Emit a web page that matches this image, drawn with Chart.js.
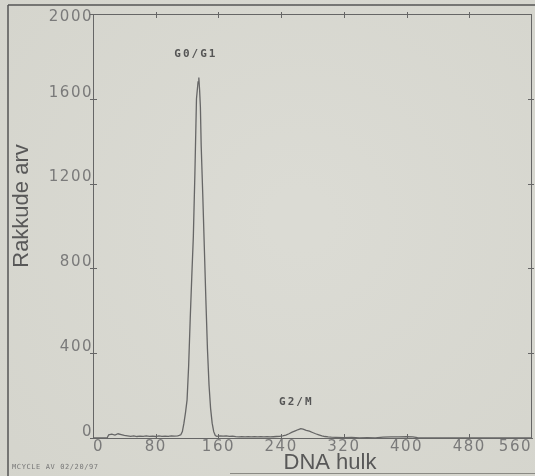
<!DOCTYPE html>
<html>
<head>
<meta charset="utf-8">
<script src="https://cdn.jsdelivr.net/npm/chart.js@4/dist/chart.umd.min.js"></script>
<style>
  html, body { margin: 0; padding: 0; background: #d8d8d0; }
  #wrap { width: 535px; height: 476px; position: relative; }
</style>
</head>
<body>
<div id="wrap"><canvas id="c" width="535" height="476"></canvas></div>
<script>
// DNA channel (x) and cell count (y)
const channels = [0, 18, 20, 24, 28, 32, 36, 40, 44, 48, 52, 56, 60, 64, 68, 72, 76, 80, 84, 88, 92, 96, 100, 104, 108, 110,
  112, 114, 116, 118, 120, 122, 124, 126, 128, 130, 132, 134, 135, 136, 137, 138, 140, 142, 144, 146, 148, 150, 152, 154, 156, 158,
  162, 166, 170, 174, 178, 182, 186, 190, 194, 198, 202, 206, 210, 214, 218, 222, 226, 230, 234, 238, 242, 246, 250, 254, 258, 262,
  265, 268, 272, 276, 280, 284, 288, 292, 296, 300, 304, 310, 320, 330, 340, 350, 360, 370, 380, 390, 400, 408, 414, 420, 560];
const counts = [0, 0, 15, 18, 14, 20, 16, 12, 10, 8, 10, 7, 9, 8, 10, 8, 9, 7, 10, 8, 9, 8, 10, 9, 10, 12,
  15, 30, 70, 120, 180, 340, 560, 760, 950, 1250, 1600, 1680, 1700, 1640, 1560, 1380, 1150, 900, 650, 420, 250, 140, 70, 30, 12, 8,
  10, 9, 10, 8, 9, 6, 5, 6, 5, 6, 5, 6, 5, 6, 5, 6, 5, 6, 7, 8, 10, 14, 20, 28, 34, 40,
  44, 42, 36, 32, 26, 20, 15, 10, 7, 5, 4, 3, 2, 3, 1, 2, 1, 4, 5, 5, 6, 5, 2, 0, 0];
const xTicks = [0, 80, 160, 240, 320, 400, 480, 560];
const yTicks = [0, 400, 800, 1200, 1600, 2000];
const peakLabels = ['G0/G1', 'G2/M'];
const peakLabelPos = [[130, 1811], [258, 170]];
const xTitle = 'DNA hulk';
const yTitle = 'Rakkude arv';
const footNote = 'MCYCLE AV 02/20/97';

const points = channels.map((c, i) => ({ x: c, y: counts[i] }));
const TICK_COLOR = '#7a7a7a';
const LINE_COLOR = '#666666';

const decor = {
  id: 'decor',
  beforeDraw(chart) {
    const ctx = chart.ctx;
    ctx.save();
    const g = ctx.createRadialGradient(300, 220, 30, 300, 220, 420);
    g.addColorStop(0, '#dbdbd4');
    g.addColorStop(1, '#d4d4cc');
    ctx.fillStyle = g;
    ctx.fillRect(0, 0, chart.width, chart.height);
    ctx.restore();
    ctx.letterSpacing = '1.5px';
  },
  afterDraw(chart) {
    const ctx = chart.ctx;
    const xs = chart.scales.x, ys = chart.scales.y;
    const a = chart.chartArea;
    ctx.save();
    ctx.letterSpacing = '0px';
    ctx.strokeStyle = LINE_COLOR;
    ctx.lineWidth = 1;
    // plot frame top and right
    ctx.beginPath();
    ctx.moveTo(a.left, a.top + 0.5); ctx.lineTo(a.right, a.top + 0.5);
    ctx.moveTo(a.right - 0.5, a.top); ctx.lineTo(a.right - 0.5, a.bottom);
    ctx.stroke();
    // tick stubs
    ctx.beginPath();
    yTicks.forEach(v => {
      const y = Math.round(ys.getPixelForValue(v)) + 0.5;
      ctx.moveTo(a.left - 3, y); ctx.lineTo(a.left + 4, y);
      if (v > 0 && v < 2000) { ctx.moveTo(a.right - 4, y); ctx.lineTo(a.right + 2, y); }
    });
    xTicks.forEach(v => {
      if (v > 0 && v < 560) {
        const x = Math.round(xs.getPixelForValue(v)) + 0.5;
        ctx.moveTo(x, a.top - 2); ctx.lineTo(x, a.top + 4);
        ctx.moveTo(x, a.bottom); ctx.lineTo(x, a.bottom - 4);
      }
    });
    ctx.stroke();
    // outer frame
    ctx.strokeStyle = '#555555';
    ctx.lineWidth = 1.5;
    ctx.beginPath();
    ctx.moveTo(8, 5); ctx.lineTo(535, 5);
    ctx.moveTo(8, 5); ctx.lineTo(8, 476);
    ctx.stroke();
    ctx.strokeStyle = '#8a8a84';
    ctx.lineWidth = 1;
    ctx.beginPath();
    ctx.moveTo(230, 473.5); ctx.lineTo(535, 473.5);
    ctx.stroke();
    // axis titles
    ctx.fillStyle = '#585858';
    ctx.font = '22px "Liberation Sans", Arial, sans-serif';
    ctx.textAlign = 'center';
    ctx.textBaseline = 'alphabetic';
    ctx.fillText(xTitle, 330, 469);
    ctx.save();
    ctx.translate(28, 206);
    ctx.rotate(-Math.PI / 2);
    ctx.fillText(yTitle, 0, 0);
    ctx.restore();
    // footnote
    ctx.fillStyle = '#777777';
    ctx.font = '7px "DejaVu Sans Mono", monospace';
    ctx.letterSpacing = '0.6px';
    ctx.textAlign = 'left';
    ctx.textBaseline = 'middle';
    ctx.fillText(footNote, 12, 467);
    // peak labels
    ctx.fillStyle = '#555555';
    ctx.font = 'bold 11px "DejaVu Sans Mono", monospace';
    ctx.letterSpacing = '2px';
    ctx.textAlign = 'center';
    peakLabels.forEach((t, i) => {
      ctx.fillText(t, xs.getPixelForValue(peakLabelPos[i][0]) + 1, ys.getPixelForValue(peakLabelPos[i][1]));
    });
    ctx.restore();
  }
};

new Chart(document.getElementById('c'), {
  type: 'line',
  data: {
    datasets: [{
      data: points,
      borderColor: LINE_COLOR,
      borderWidth: 1.3,
      pointRadius: 0,
      tension: 0,
      fill: false
    }]
  },
  options: {
    responsive: false,
    animation: false,
    events: [],
    layout: { padding: { left: 0, right: 3, top: 14, bottom: 0 } },
    plugins: { legend: { display: false }, tooltip: { enabled: false } },
    scales: {
      x: {
        type: 'linear',
        min: 0, max: 560,
        afterFit(s) { s.height = 38; s.paddingLeft = 0; s.paddingRight = 0; },
        afterBuildTicks(s) { s.ticks = xTicks.map(v => ({ value: v })); },
        grid: { display: false, drawTicks: false },
        border: { display: true, color: LINE_COLOR, width: 1 },
        ticks: {
          align: 'inner',
          padding: 0,
          color: TICK_COLOR,
          font: { family: '"DejaVu Sans", sans-serif', size: 15 },
          callback: v => String(v)
        }
      },
      y: {
        type: 'linear',
        min: 0, max: 2000,
        afterFit(s) { s.width = 93; s.paddingTop = 0; s.paddingBottom = 0; },
        afterBuildTicks(s) { s.ticks = yTicks.map(v => ({ value: v })); },
        grid: { display: false, drawTicks: false },
        border: { display: true, color: LINE_COLOR, width: 1 },
        ticks: {
          padding: 0,
          labelOffset: -6,
          color: TICK_COLOR,
          font: { family: '"DejaVu Sans", sans-serif', size: 15 },
          callback: v => (v === 2000 ? ['', String(v)] : String(v))
        }
      }
    }
  },
  plugins: [decor]
});
</script>
</body>
</html>
